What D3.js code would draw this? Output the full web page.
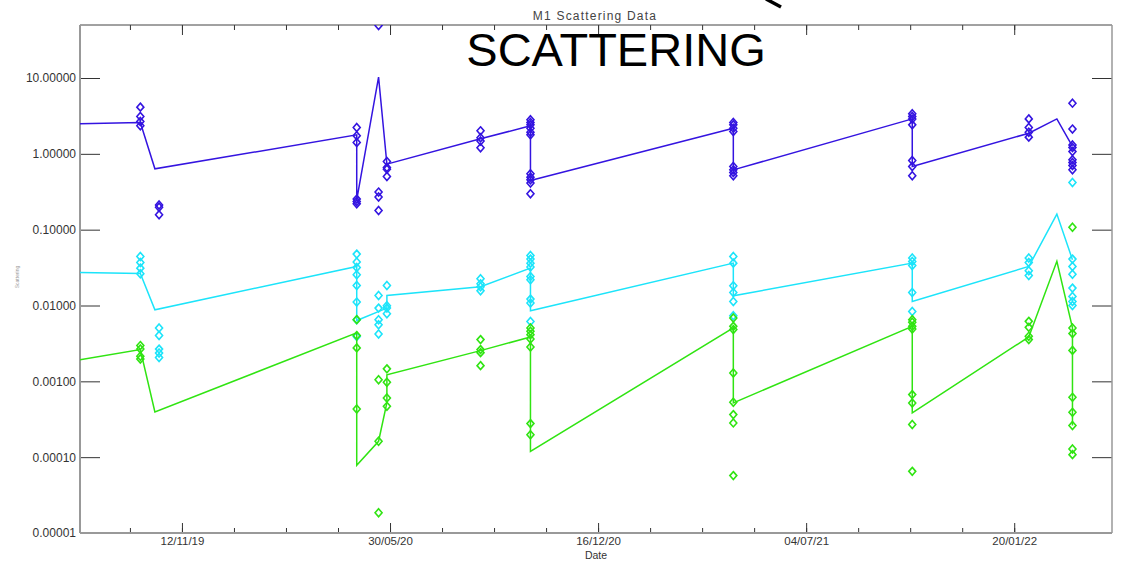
<!DOCTYPE html>
<html>
<head>
<meta charset="utf-8">
<script src="https://cdn.jsdelivr.net/npm/d3@7"></script>
<style>
body { margin: 0; background: #fff; }
svg { display: block; }
</style>
</head>
<body>
<div id="chart"></div>
<script>
const width = 1123, height = 566;
const margin = { top: 25, right: 11, bottom: 33, left: 80 };

// mean lines: [date, value]
const blueLine = [
    ["2019-08-06", 2.49], ["2019-10-03", 2.59], ["2019-10-17", 0.634],
    ["2020-04-28", 1.78], ["2020-04-28", 0.247], ["2020-05-19", 10.27],
    ["2020-05-27", 0.731], ["2020-08-25", 1.58], ["2020-10-12", 2.34],
    ["2020-10-12", 0.445], ["2021-04-25", 2.18], ["2021-04-25", 0.615],
    ["2021-10-14", 2.89], ["2021-10-14", 0.680], ["2022-02-03", 1.87],
    ["2022-03-02", 2.89], ["2022-03-17", 1.25]
];
const cyanLine = [
    ["2019-08-06", 0.0272], ["2019-10-03", 0.0264], ["2019-10-17", 0.00878],
    ["2020-04-28", 0.0327], ["2020-04-28", 0.00634], ["2020-05-27", 0.00924],
    ["2020-05-27", 0.01355], ["2020-08-25", 0.01765], ["2020-10-12", 0.0311],
    ["2020-10-12", 0.00851], ["2021-04-25", 0.0362], ["2021-04-25", 0.01342],
    ["2021-10-14", 0.0362], ["2021-10-14", 0.0113], ["2022-02-03", 0.0327],
    ["2022-03-02", 0.1604], ["2022-03-17", 0.0401]
];
const greenLine = [
    ["2019-08-06", 0.00193], ["2019-10-03", 0.00262], ["2019-10-17", 0.000395],
    ["2020-04-28", 0.00435], ["2020-04-28", 0.000078], ["2020-05-19", 0.000162],
    ["2020-05-27", 0.000524], ["2020-05-27", 0.00122], ["2020-08-25", 0.00254],
    ["2020-10-12", 0.00385], ["2020-10-12", 0.000119], ["2021-04-25", 0.00506],
    ["2021-04-25", 0.000519], ["2021-10-14", 0.00531], ["2021-10-14", 0.000383],
    ["2022-02-03", 0.00385], ["2022-03-02", 0.0382], ["2022-03-17", 0.00506],
    ["2022-03-17", 0.000261]
];

// individual measurements: [date, values]
const blueObs = [
    ["2019-10-03", [4.13, 3.10, 2.67, 2.34]],
    ["2019-10-21", [0.212, 0.198, 0.157]],
    ["2020-04-28", [2.22, 1.73, 1.41, 0.253, 0.235, 0.219]],
    ["2020-05-19", [49.2, 0.313, 0.269, 0.179]],
    ["2020-05-27", [0.792, 0.660, 0.628, 0.502]],
    ["2020-08-25", [2.01, 1.63, 1.48, 1.20]],
    ["2020-10-12", [2.81, 2.59, 2.41, 2.18, 1.93, 1.78, 0.545, 0.493, 0.454, 0.411, 0.297]],
    ["2021-04-25", [2.59, 2.41, 2.18, 1.97, 0.680, 0.615, 0.567, 0.513]],
    ["2021-10-14", [3.37, 3.10, 2.87, 2.41, 0.816, 0.680, 0.513]],
    ["2022-02-03", [2.89, 2.22, 1.93, 1.66]],
    ["2022-03-17", [4.66, 2.12, 1.31, 1.21, 1.07, 0.834, 0.768, 0.701, 0.615]]
];
const cyanObs = [
    ["2019-10-03", [0.0443, 0.0369, 0.0311, 0.0262]],
    ["2019-10-21", [0.00504, 0.00402, 0.00266, 0.00236, 0.00206]],
    ["2020-04-28", [0.0476, 0.0374, 0.0317, 0.0254, 0.01836, 0.01109, 0.00648, 0.0039]],
    ["2020-05-19", [0.01355, 0.00924, 0.00648, 0.00557, 0.0042]],
    ["2020-05-27", [0.01836, 0.0099, 0.00924, 0.00777]],
    ["2020-08-25", [0.0225, 0.0193, 0.01765, 0.0156]],
    ["2020-10-12", [0.0456, 0.0409, 0.0362, 0.0321, 0.0241, 0.0218, 0.01214, 0.01076, 0.00615]],
    ["2021-04-25", [0.0443, 0.0362, 0.0182, 0.01484, 0.0113, 0.00731]],
    ["2021-10-14", [0.0422, 0.0380, 0.0337, 0.01484, 0.00834]],
    ["2022-02-03", [0.0422, 0.0369, 0.0287, 0.0249]],
    ["2022-03-17", [0.419, 0.0409, 0.0327, 0.0259, 0.01696, 0.01314, 0.0113, 0.0100]]
];
const greenObs = [
    ["2019-10-03", [0.00296, 0.00267, 0.00214, 0.00197]],
    ["2020-04-28", [0.00651, 0.00401, 0.00276, 0.000432]],
    ["2020-05-19", [0.00105, 0.000162, 0.0000185]],
    ["2020-05-27", [0.00146, 0.00097, 0.000604, 0.000468]],
    ["2020-08-25", [0.00355, 0.00262, 0.00239, 0.00161]],
    ["2020-10-12", [0.00506, 0.00457, 0.00413, 0.00362, 0.00284, 0.000277, 0.000198]],
    ["2021-04-25", [0.00686, 0.00531, 0.00481, 0.00129, 0.000529, 0.000364, 0.000283, 0.0000571]],
    ["2021-10-14", [0.00651, 0.0060, 0.00531, 0.00491, 0.000668, 0.000519, 0.000269, 0.000065]],
    ["2022-02-03", [0.00618, 0.00515, 0.00392, 0.00355]],
    ["2022-03-17", [0.1074, 0.00506, 0.00426, 0.00256, 0.000615, 0.00039, 0.000261, 0.000128, 0.000108]]
];

const yTicks = [0.00001, 0.0001, 0.001, 0.01, 0.1, 1, 10];
const xMajorTicks = ["2019-11-12", "2020-05-30", "2020-12-16", "2021-07-04", "2022-01-20"];
const xDomain = ["2019-08-06", "2022-04-24"];
const yDomain = [0.00001, 50];

const series = [
    { line: blueLine, obs: blueObs, color: "#3414e0" },
    { line: cyanLine, obs: cyanObs, color: "#1ce4fa" },
    { line: greenLine, obs: greenObs, color: "#30e412" }
];

const parse = d3.utcParse("%Y-%m-%d");

const x = d3.scaleUtc()
    .domain(xDomain.map(parse))
    .range([margin.left, width - margin.right]);

const y = d3.scaleLog()
    .domain(yDomain)
    .range([height - margin.bottom, margin.top]);

const majors = xMajorTicks.map(parse);
const minors = d3.range(-1, 17).map(k => d3.utcDay.offset(majors[0], k * 50))
    .filter(d => d >= x.domain()[0] && d <= x.domain()[1]);

const svg = d3.select("#chart").append("svg")
    .attr("width", width)
    .attr("height", height)
    .style("font-family", "Liberation Sans, Arial, sans-serif");

svg.append("defs").append("clipPath")
    .attr("id", "plot-clip")
    .append("rect")
    .attr("x", margin.left)
    .attr("y", margin.top)
    .attr("width", width - margin.left - margin.right)
    .attr("height", height - margin.top - margin.bottom);

const fmtDate = d3.utcFormat("%d/%m/%y");

// bottom axis
const bottomAxis = svg.append("g")
    .attr("transform", `translate(0,${height - margin.bottom})`);
bottomAxis.append("g")
    .call(d3.axisBottom(x).tickValues(minors).tickSize(-5).tickSizeOuter(0).tickFormat(""))
    .call(g => g.select(".domain").remove());
bottomAxis.append("g")
    .call(d3.axisBottom(x).tickValues(majors).tickSize(-10).tickSizeOuter(0).tickPadding(4).tickFormat(fmtDate))
    .call(g => g.select(".domain").remove())
    .call(g => g.selectAll("text").attr("font-size", 11.5).attr("fill", "#333"));

// top axis
const topAxis = svg.append("g")
    .attr("transform", `translate(0,${margin.top})`);
topAxis.append("g")
    .call(d3.axisTop(x).tickValues(minors).tickSize(-5).tickSizeOuter(0).tickFormat(""))
    .call(g => g.select(".domain").remove());
topAxis.append("g")
    .call(d3.axisTop(x).tickValues(majors).tickSize(-10).tickSizeOuter(0).tickFormat(""))
    .call(g => g.select(".domain").remove());

// left axis
svg.append("g")
    .attr("transform", `translate(${margin.left},0)`)
    .call(d3.axisLeft(y).tickValues(yTicks).tickSize(-20).tickSizeOuter(0).tickPadding(4).tickFormat(d3.format(".5f")))
    .call(g => g.select(".domain").remove())
    .call(g => g.selectAll("text").attr("font-size", 12).attr("fill", "#333"));

// right axis
svg.append("g")
    .attr("transform", `translate(${width - margin.right},0)`)
    .call(d3.axisRight(y).tickValues(yTicks).tickSize(-20).tickSizeOuter(0).tickFormat(""))
    .call(g => g.select(".domain").remove());

svg.selectAll(".tick line").attr("stroke", "#333");

// frame
svg.append("line")
    .attr("x1", margin.left).attr("x2", width - margin.right)
    .attr("y1", margin.top).attr("y2", margin.top)
    .attr("stroke", "#444").attr("stroke-width", 1);
svg.append("line")
    .attr("x1", margin.left).attr("x2", width - margin.right)
    .attr("y1", height - margin.bottom).attr("y2", height - margin.bottom)
    .attr("stroke", "#999").attr("stroke-width", 2);
svg.append("line")
    .attr("x1", margin.left).attr("x2", margin.left)
    .attr("y1", margin.top).attr("y2", height - margin.bottom)
    .attr("stroke", "#999").attr("stroke-width", 2);
svg.append("line")
    .attr("x1", width - margin.right).attr("x2", width - margin.right)
    .attr("y1", margin.top).attr("y2", height - margin.bottom)
    .attr("stroke", "#999").attr("stroke-width", 1.5);

// data
const plot = svg.append("g").attr("clip-path", "url(#plot-clip)");
const line = d3.line()
    .x(d => x(parse(d[0])))
    .y(d => y(d[1]));
const diamond = "M0,-4L3.5,0L0,4L-3.5,0Z";

series.forEach(s => {
    plot.append("path")
        .datum(s.line)
        .attr("fill", "none")
        .attr("stroke", s.color)
        .attr("stroke-width", 1.5)
        .attr("d", line);

    const pts = s.obs.flatMap(([date, vals]) => vals.map(v => ({ date: parse(date), v })));
    plot.append("g")
        .selectAll("path")
        .data(pts)
        .join("path")
        .attr("transform", d => `translate(${x(d.date)},${y(d.v)})`)
        .attr("d", diamond)
        .attr("fill", "none")
        .attr("stroke", s.color)
        .attr("stroke-width", 1.6);
});

// texts
svg.append("text")
    .attr("x", 595)
    .attr("y", 20)
    .attr("text-anchor", "middle")
    .attr("font-size", 12)
    .attr("letter-spacing", 1.2)
    .attr("fill", "#444")
    .text("M1 Scattering Data");

svg.append("text")
    .attr("x", 596)
    .attr("y", 559)
    .attr("text-anchor", "middle")
    .attr("font-size", 10.5)
    .attr("fill", "#333")
    .text("Date");

svg.append("text")
    .attr("transform", "translate(19,277) rotate(-90)")
    .attr("text-anchor", "middle")
    .attr("font-size", 5)
    .attr("fill", "#999")
    .text("Scattering");

svg.append("text")
    .attr("x", 616)
    .attr("y", 66)
    .attr("text-anchor", "middle")
    .attr("font-size", 47)
    .attr("fill", "#000")
    .text("SCATTERING");

// stray stroke at the top edge
svg.append("line")
    .attr("x1", 766).attr("y1", -1)
    .attr("x2", 781).attr("y2", 7)
    .attr("stroke", "#000")
    .attr("stroke-width", 3.5);
</script>
</body>
</html>
